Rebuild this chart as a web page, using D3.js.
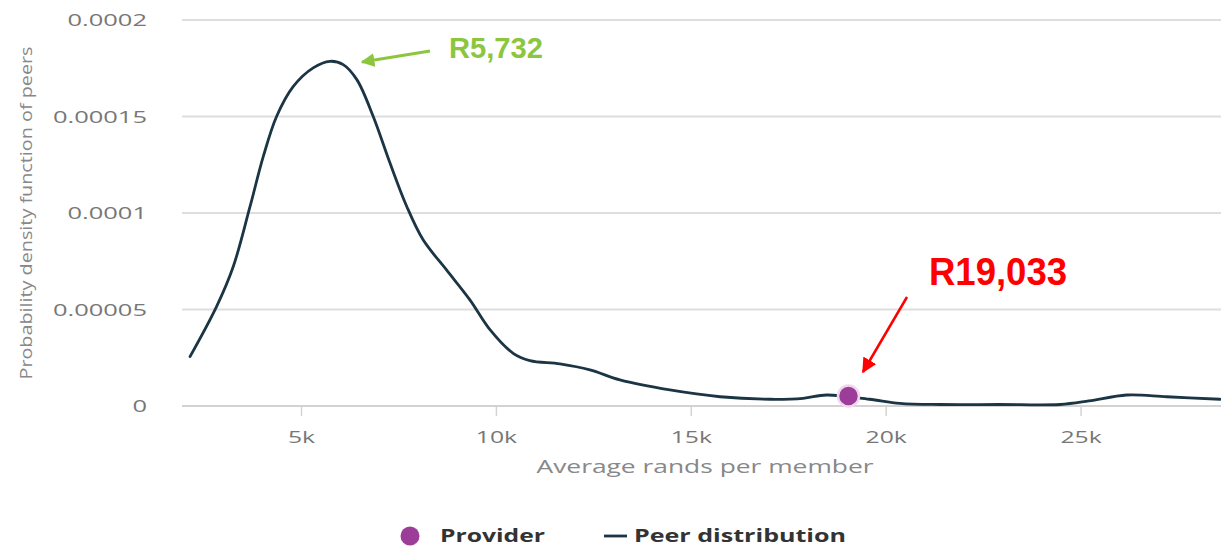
<!DOCTYPE html>
<html>
<head>
<meta charset="utf-8">
<script src="https://cdn.jsdelivr.net/npm/d3@7/dist/d3.min.js"></script>
<style>
  body { margin: 0; background: #fff; }
  svg { display: block; }
</style>
</head>
<body>
<svg id="chart" width="1221" height="549"></svg>
<script>
// ---- data ----
const peerX = [2140, 2820, 3250, 3680, 4020, 4360, 4790, 5300, 5730, 6070, 6420, 6840, 7270, 7700, 8120, 8720, 9320, 9840, 10430, 10860, 11630, 12400, 13170, 14450, 15740, 17020, 17870, 18470, 19570, 20350, 21380, 22900, 24460, 25200, 26170, 27200, 28560];
const peerY = [2.56e-5, 5.15e-5, 7.23e-5, 1.034e-4, 1.293e-4, 1.50e-4, 1.656e-4, 1.752e-4, 1.786e-4, 1.769e-4, 1.691e-4, 1.50e-4, 1.259e-4, 1.034e-4, 8.61e-5, 7.05e-5, 5.50e-5, 3.94e-5, 2.73e-5, 2.35e-5, 2.18e-5, 1.87e-5, 1.35e-5, 8.3e-6, 4.8e-6, 3.5e-6, 4.0e-6, 5.7e-6, 3.5e-6, 1.4e-6, 0.6e-6, 0.3e-6, 0.4e-6, 2.6e-6, 5.7e-6, 4.8e-6, 3.5e-6];
const providerX = [19033];
const providerY = [5.2e-6];
const yTicks = [0, 0.00005, 0.0001, 0.00015, 0.0002];
const yTickLabels = ["0", "0.00005", "0.0001", "0.00015", "0.0002"];
const xTicks = [5000, 10000, 15000, 20000, 25000];
const xTickLabels = ["5k", "10k", "15k", "20k", "25k"];
const peakLabel = "R5,732";
const providerLabel = "R19,033";
const legendLabels = ["Provider", "Peer distribution"];

(function () {
const svg = d3.select("#chart");
const pLeft = 182, pRight = 1221, pTop = 20, pBottom = 406;
const SX = 1.5; // horizontal stretch of the chart's own text
const FONT = "Open Sans, sans-serif";
const x = d3.scaleLinear().domain([1934, 28590]).range([pLeft, pRight]);
const y = d3.scaleLinear().domain([0, 0.0002]).range([pBottom, pTop]);

const defs = svg.append("defs");
function marker(id, color, size) {
  defs.append("marker").attr("id", id).attr("viewBox", "0 0 10 10")
    .attr("refX", 9).attr("refY", 5).attr("markerWidth", size).attr("markerHeight", size)
    .attr("orient", "auto").attr("markerUnits", "strokeWidth")
    .append("path").attr("d", "M0,0 L10,5 L0,10 Z").attr("fill", color);
}
marker("arrG", "#8cc63f", 4.6);
marker("arrR", "#ff0000", 6);

// gridlines
svg.append("g").selectAll("line").data(yTicks).join("line")
  .attr("x1", pLeft).attr("x2", pRight)
  .attr("y1", d => y(d)).attr("y2", d => y(d))
  .attr("stroke", d => d === 0 ? "#d2d2d2" : "#dedede").attr("stroke-width", 1.8);

// y labels (stretched horizontally around their right edge)
svg.append("g").selectAll("g").data(yTicks).join("g")
  .attr("transform", d => `translate(147,${y(d) + 6}) scale(${SX},1)`)
  .append("text")
  .attr("text-anchor", "end")
  .attr("font-family", FONT).attr("font-size", 17).attr("fill", "#777")
  .text((d, i) => yTickLabels[i]);

// x ticks
const xg = svg.append("g");
xg.selectAll("line").data(xTicks).join("line")
  .attr("x1", d => x(d)).attr("x2", d => x(d))
  .attr("y1", pBottom).attr("y2", pBottom + 10)
  .attr("stroke", "#d2d2d2").attr("stroke-width", 1.4);
xg.selectAll("g").data(xTicks).join("g")
  .attr("transform", d => `translate(${x(d)},443) scale(${SX},1)`)
  .append("text")
  .attr("text-anchor", "middle")
  .attr("font-family", FONT).attr("font-size", 16.5).attr("fill", "#777")
  .text((d, i) => xTickLabels[i]);

// axis titles
svg.append("text").attr("x", 705).attr("y", 473).attr("text-anchor", "middle")
  .attr("font-family", FONT).attr("font-size", 18).attr("fill", "#888")
  .attr("textLength", 337).attr("lengthAdjust", "spacingAndGlyphs")
  .text("Average rands per member");
svg.append("text").attr("transform", "translate(32,213) rotate(-90)").attr("text-anchor", "middle")
  .attr("font-family", FONT).attr("font-size", 16.5).attr("fill", "#888")
  .attr("textLength", 333).attr("lengthAdjust", "spacingAndGlyphs")
  .text("Probability density function of peers");

// line
const pts = peerX.map((d, i) => [d, peerY[i]]);
const line = d3.line().x(d => x(d[0])).y(d => Math.min(y(d[1]), pBottom - 1.5)).curve(d3.curveCatmullRom.alpha(0.5));
svg.append("path").datum(pts).attr("d", line)
  .attr("fill", "none").attr("stroke", "#1c3545").attr("stroke-width", 2.8)
  .attr("stroke-linejoin", "round").attr("stroke-linecap", "round");

// provider point
svg.append("g").selectAll("circle").data(providerX).join("circle")
  .attr("cx", d => x(d)).attr("cy", (d, i) => y(providerY[i])).attr("r", 10.5)
  .attr("fill", "#9c3d99").attr("stroke", "#f0d8ec").attr("stroke-width", 2.5);

// annotations
svg.append("line").attr("x1", 430).attr("y1", 51).attr("x2", 362).attr("y2", 62)
  .attr("stroke", "#8cc63f").attr("stroke-width", 3).attr("marker-end", "url(#arrG)");
svg.append("text").attr("x", 449).attr("y", 58)
  .attr("font-family", "Liberation Sans, Arial, sans-serif").attr("font-weight", "bold")
  .attr("font-size", 29).attr("fill", "#8cc63f")
  .attr("textLength", 94).attr("lengthAdjust", "spacingAndGlyphs").text(peakLabel);

svg.append("line").attr("x1", 907).attr("y1", 297).attr("x2", 863).attr("y2", 372)
  .attr("stroke", "#ff0000").attr("stroke-width", 2.5).attr("marker-end", "url(#arrR)");
svg.append("text").attr("x", 929).attr("y", 285)
  .attr("font-family", "Liberation Sans, Arial, sans-serif").attr("font-weight", "bold")
  .attr("font-size", 38).attr("fill", "#ff0000")
  .attr("textLength", 138).attr("lengthAdjust", "spacingAndGlyphs").text(providerLabel);

// legend
const lg = svg.append("g");
lg.append("circle").attr("cx", 410).attr("cy", 536).attr("r", 9.5).attr("fill", "#9c3d99");
lg.append("text").attr("x", 440).attr("y", 542)
  .attr("font-family", FONT).attr("font-weight", "bold").attr("font-size", 18)
  .attr("fill", "#333").attr("textLength", 105).attr("lengthAdjust", "spacingAndGlyphs")
  .text(legendLabels[0]);
lg.append("line").attr("x1", 604).attr("x2", 627).attr("y1", 536).attr("y2", 536)
  .attr("stroke", "#1c3545").attr("stroke-width", 2.8);
lg.append("text").attr("x", 634).attr("y", 542)
  .attr("font-family", FONT).attr("font-weight", "bold").attr("font-size", 18)
  .attr("fill", "#333").attr("textLength", 212).attr("lengthAdjust", "spacingAndGlyphs")
  .text(legendLabels[1]);
})();
</script>
</body>
</html>
